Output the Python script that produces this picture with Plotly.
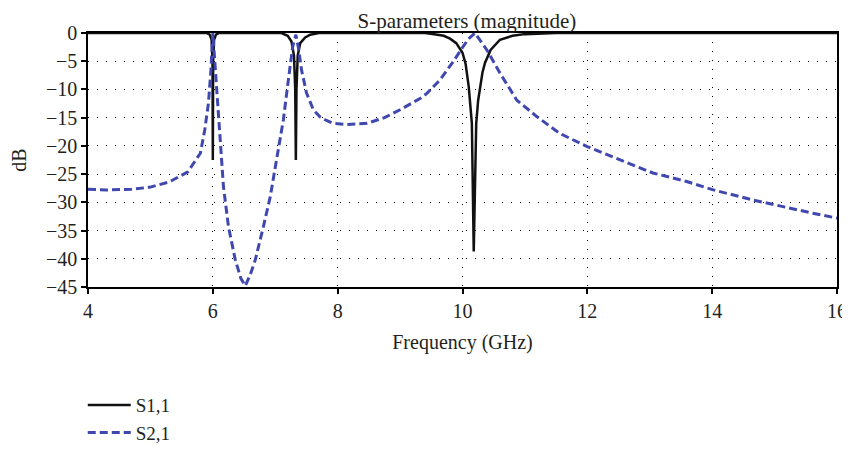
import plotly.graph_objects as go

# S1,1 (reflection)
freq_s11 = [4.0, 5.9, 5.95, 5.98, 5.995, 6.0, 6.005, 6.02, 6.05, 6.1,
            7.1, 7.2, 7.26, 7.3, 7.32, 7.33, 7.34, 7.36, 7.4, 7.48, 7.56, 7.7,
            9.4, 9.6, 9.7, 9.8, 9.9, 10.0, 10.05, 10.1, 10.12, 10.15, 10.18,
            10.22, 10.25, 10.28, 10.32, 10.36, 10.45, 10.6, 10.8, 11.0, 11.5, 16.0]
s11_db = [0, 0, -0.3, -1.2, -5, -22.5, -5, -1.2, -0.3, 0,
          0, -0.5, -1.5, -4, -10, -22.5, -10, -4, -1.8, -0.8, -0.3, 0,
          0, -0.3, -0.5, -1.0, -1.8, -3.5, -5.5, -9.5, -12, -16, -38.7,
          -16, -12, -9.5, -7, -5.3, -3, -1.2, -0.5, -0.2, 0, 0]

# S2,1 (transmission)
freq_s21 = [4.0, 4.3, 4.7, 5.0, 5.3, 5.6, 5.8, 5.87, 5.93, 5.97, 6.0,
            6.06, 6.12, 6.17, 6.25, 6.36, 6.45, 6.52, 6.6, 6.68, 6.81, 6.92,
            7.02, 7.13, 7.21, 7.28, 7.33, 7.37, 7.42, 7.5, 7.61, 7.72, 7.82,
            7.93, 8.15, 8.47, 8.75, 9.0, 9.32, 9.43, 9.64, 9.85, 10.01, 10.1,
            10.2, 10.3, 10.39, 10.6, 10.87, 11.19, 11.56, 11.99, 12.53, 13.05,
            13.59, 14.02, 14.66, 15.2, 15.6, 16.0]
s21_db = [-27.7, -27.8, -27.7, -27.3, -26.4, -24.6, -21.3, -17.2, -12.4, -6.5, 0.0,
          -9.5, -18.3, -27.2, -34.3, -40.2, -43.5, -44.8, -42.8, -40.2, -34.3, -29.0,
          -22.5, -15.4, -8.3, -2.4, -0.3, -2.5, -6.5, -10.6, -13.6, -14.9, -15.5,
          -16.0, -16.2, -16.0, -15.0, -13.6, -11.6, -10.7, -8.3, -5.1, -2.4, -1.0,
          0.0, -1.5, -3.0, -7.1, -11.9, -14.8, -17.8, -20.1, -22.5, -24.8,
          -26.3, -27.8, -29.6, -31.0, -31.9, -32.8]

x_ticks = [4, 6, 8, 10, 12, 14, 16]
y_ticks = [0, -5, -10, -15, -20, -25, -30, -35, -40, -45]

FONT = "Liberation Serif"
INK = "#231F20"

fig = go.Figure()
fig.add_trace(go.Scatter(
    x=freq_s11, y=s11_db, mode="lines", name="S1,1", legendgroup="a",
    line=dict(color="#111111", width=2.5),
))
fig.add_trace(go.Scatter(
    x=freq_s21, y=s21_db, mode="lines", name="S2,1", legendgroup="b",
    line=dict(color="#4048B0", width=3, dash="8px,4px"),
))

axis_common = dict(
    showline=True, linecolor="black", linewidth=1.5, mirror=True,
    ticks="outside", ticklen=5, tickcolor="black", tickwidth=1.5,
    showgrid=True, gridcolor="black", gridwidth=1, griddash="1px,8px",
    zeroline=False, automargin=False, ticklabeloverflow="allow",
    tickfont=dict(family=FONT, size=20, color=INK),
)

fig.update_xaxes(range=[4, 16], tickvals=x_ticks,
                 title=dict(text="Frequency (GHz)", font=dict(family=FONT, size=20, color=INK), standoff=14),
                 **axis_common)
fig.update_yaxes(range=[-45, 0], tickvals=y_ticks,
                 title=dict(text="dB", font=dict(family=FONT, size=20, color=INK), standoff=22),
                 **axis_common)

# the page body adds an 8px margin, so the figure is 842x435
fig.update_layout(
    width=842, height=435,
    margin=dict(l=80, r=13, t=25, b=156, autoexpand=False),
    paper_bgcolor="white", plot_bgcolor="white",
    font=dict(family=FONT, size=20, color=INK),
    title=dict(text="S-parameters (magnitude)", x=0.545, xanchor="center",
               y=0.972, yanchor="middle", font=dict(family=FONT, size=21, color=INK)),
    showlegend=True,
    legend=dict(x=-0.007, xanchor="left", y=-0.39, yanchor="top", itemwidth=43,
                font=dict(family=FONT, size=19, color=INK),
                tracegroupgap=0, bgcolor="rgba(0,0,0,0)"),
)

fig.write_html("out.html")
